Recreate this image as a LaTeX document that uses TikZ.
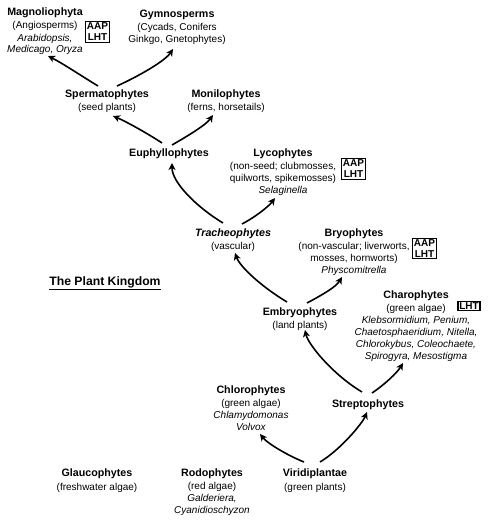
\documentclass[tikz,border=0pt]{standalone}
\usepackage{fontspec}
\setmainfont{Liberation Sans}
\usetikzlibrary{arrows.meta}
\newcommand{\ttl}[1]{{\fontsize{10.7}{12}\selectfont\bfseries #1}}
\newcommand{\tx}[1]{\begin{tabular}[t]{@{}c@{}}#1\end{tabular}}
\tikzset{
  taxon/.style={anchor=base, inner sep=0pt, font=\fontsize{10}{12}\selectfont},
  tagbox/.style={draw, line width=1.3pt, inner sep=1.4pt, align=center, font=\fontsize{10}{11}\selectfont\bfseries},
  arr/.style={line width=1.6pt, -{Stealth[length=7pt,width=7pt,inset=2pt]}}
}
\begin{document}
\begin{tikzpicture}[x=1pt,y=-1pt]
\useasboundingbox (0,0) rectangle (490,522);
% nodes
\node[taxon] (magno) at (45,16) {\tx{\ttl{Magnoliophyta}\\[1pt](Angiosperms)\\\textit{Arabidopsis,}\\\textit{Medicago, Oryza}}};
\node[tagbox] (magnobox) at (97.5,32) {AAP\\LHT};
\node[taxon] (gymno) at (177,17) {\tx{\ttl{Gymnosperms}\\[1pt](Cycads, Conifers\\Ginkgo, Gnetophytes)}};
\node[taxon] (sperm) at (107,97) {\tx{\ttl{Spermatophytes}\\[1pt](seed plants)}};
\node[taxon] (monil) at (226,97) {\tx{\ttl{Monilophytes}\\[1pt](ferns, horsetails)}};
\node[taxon] (euphyl) at (169,156) {\tx{\ttl{Euphyllophytes}}};
\node[taxon] (lyco) at (283,156) {\tx{\ttl{Lycophytes}\\[1pt](non-seed; clubmosses,\\quilworts, spikemosses)\\\textit{Selaginella}}};
\node[tagbox] (lycobox) at (353.5,169) {AAP\\LHT};
\node[taxon] (trach) at (233,236) {\tx{\ttl{\textit{Tracheophytes}}\\[1pt](vascular)}};
\node[taxon] (bryo) at (354,236) {\tx{\ttl{Bryophytes}\\[1pt](non-vascular; liverworts,\\mosses, hornworts)\\\textit{Physcomitrella}}};
\node[tagbox] (bryobox) at (424.5,248.5) {AAP\\LHT};
\node[taxon] (kingdom) at (105,285) {\fontsize{12.2}{14}\selectfont\bfseries\underline{The Plant Kingdom}};
\node[taxon] (embryo) at (300,315) {\tx{\ttl{Embryophytes}\\[1pt](land plants)}};
\node[taxon] (charo) at (416,298) {\tx{\ttl{Charophytes}\\[1pt](green algae)\\\textit{Klebsormidium, Penium,}\\\textit{Chaetosphaeridium, Nitella,}\\\textit{Chlorokybus, Coleochaete,}\\\textit{Spirogyra, Mesostigma}}};
\node[tagbox] (charobox) at (469,306) {LHT};
\node[taxon] (chloro) at (251,393) {\tx{\ttl{Chlorophytes}\\[1pt](green algae)\\\textit{Chlamydomonas}\\\textit{Volvox}}};
\node[taxon] (strepto) at (368,407) {\tx{\ttl{Streptophytes}}};
\node[taxon] (glauco) at (97,476) {\tx{\ttl{Glaucophytes}\\[2pt](freshwater algae)}};
\node[taxon] (rodo) at (212,476) {\tx{\ttl{Rodophytes}\\[1pt](red algae)\\\textit{Galderiera,}\\\textit{Cyanidioschyzon}}};
\node[taxon] (virid) at (315,476) {\tx{\ttl{Viridiplantae}\\[2pt](green plants)}};
% connectors
\draw[arr] ([shift={(-9,-11)}]sperm.base) .. controls +(-18,-11) and +(14,7) .. ([shift={(3,40)}]magno.base);
\draw[arr] ([shift={(10,-11)}]sperm.base) .. controls +(22,-10) and +(-8,12) .. ([shift={(-4,32)}]gymno.base);
\draw[arr] ([shift={(-7,-13)}]euphyl.base) .. controls +(-15,-10) and +(12,5) .. ([shift={(6,19)}]sperm.base);
\draw[arr] ([shift={(3,-11)}]euphyl.base) .. controls +(14,-8) and +(-7,10) .. ([shift={(-13,18)}]monil.base);
\draw[arr] ([shift={(-10,-13)}]trach.base) .. controls +(-25,-15) and +(0,20) .. ([shift={(3,7)}]euphyl.base);
\draw[arr] ([shift={(9,-12)}]trach.base) .. controls +(15,-8) and +(-6,8) .. ([shift={(-8,42)}]lyco.base);
\draw[arr] ([shift={(-13,-13)}]embryo.base) .. controls +(-25,-15) and +(5,14) .. ([shift={(2,17)}]trach.base);
\draw[arr] ([shift={(7,-12)}]embryo.base) .. controls +(15,-8) and +(-6,10) .. ([shift={(-12,41)}]bryo.base);
\draw[arr] ([shift={(-6,-15)}]strepto.base) .. controls +(-30,-18) and +(3,14) .. ([shift={(5,15)}]embryo.base);
\draw[arr] ([shift={(4,-14)}]strepto.base) .. controls +(12,-8) and +(-6,10) .. ([shift={(-13,65)}]charo.base);
\draw[arr] ([shift={(-11,-14)}]virid.base) .. controls +(-15,-6) and +(8,10) .. ([shift={(9,41)}]chloro.base);
\draw[arr] ([shift={(5,-14)}]virid.base) .. controls +(20,-12) and +(-5,12) .. ([shift={(-1,5)}]strepto.base);
\end{tikzpicture}
\end{document}
